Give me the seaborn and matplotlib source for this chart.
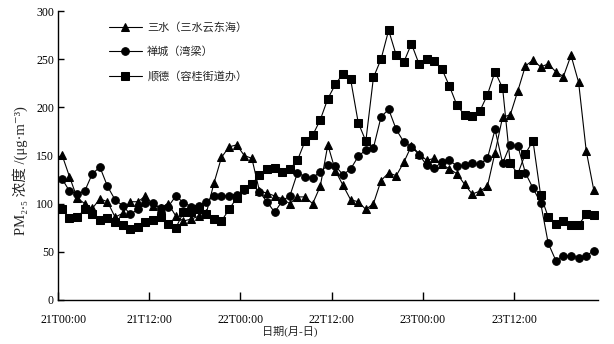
import numpy as np
import pandas as pd
import matplotlib
matplotlib.use("Agg")
import matplotlib.pyplot as plt
import matplotlib.transforms as mtransforms
import seaborn as sns

sites = ["三水（三水云东海）", "禅城（湾梁）", "顺德（容桂街道办）"]
tick_labels = ["21T00:00", "21T12:00", "22T00:00", "22T12:00", "23T00:00", "23T12:00"]

sanshui = [151, 128, 106, 100, 95, 105, 102, 86, 90, 102, 102, 108, 98, 96, 100, 87, 82, 84, 87, 90,
           121, 148, 159, 161, 150, 147, 113, 111, 108, 105, 100, 107, 107, 100, 118, 161, 134, 119, 104, 102,
           94, 100, 124, 132, 129, 143, 160, 152, 145, 147, 141, 136, 131, 120, 110, 113, 118, 153, 190, 192,
           217, 243, 249, 242, 245, 237, 232, 254, 226, 155, 114]
chancheng = [126, 113, 110, 113, 131, 138, 118, 104, 98, 89, 94, 101, 101, 95, 97, 108, 101, 97, 98, 102,
             108, 108, 108, 109, 114, 120, 112, 102, 91, 103, 108, 132, 128, 127, 133, 140, 139, 130, 136, 149,
             156, 158, 190, 198, 177, 164, 159, 151, 140, 137, 143, 145, 139, 140, 142, 141, 147, 177, 142, 161,
             160, 132, 116, 101, 59, 41, 46, 46, 44, 46, 51]
shunde = [94, 85, 86, 94, 89, 83, 85, 81, 78, 74, 76, 81, 83, 86, 79, 75, 91, 91, 94, 89,
          84, 82, 94, 106, 115, 120, 130, 136, 137, 133, 136, 145, 165, 171, 187, 209, 224, 235, 229, 184,
          165, 231, 250, 280, 254, 247, 266, 245, 250, 248, 240, 222, 202, 192, 191, 196, 213, 237, 220, 142,
          131, 152, 165, 109, 86, 79, 82, 78, 78, 89, 88]

n = len(sanshui)
hours = np.arange(n) + 0.5
df = pd.DataFrame({
    "hour": np.concatenate([hours, hours, hours]),
    "value": sanshui + chancheng + shunde,
    "site": [sites[0]] * n + [sites[1]] * n + [sites[2]] * n,
})

sns.set_theme(style="ticks")
fam = ["Liberation Serif", "DejaVu Serif", "Noto Sans CJK SC"]
plt.rcParams["font.family"] = fam
plt.rcParams["axes.unicode_minus"] = False

fig = plt.figure(figsize=(6.14, 3.44), dpi=100)
ax = fig.add_axes([58.1 / 614, 1 - 300 / 344, (597.6 - 58.1) / 614, (300 - 11) / 344])

sns.lineplot(data=df, x="hour", y="value", hue="site", style="site",
             hue_order=sites, style_order=sites,
             palette=["black"] * 3, markers={sites[0]: "^", sites[1]: "o", sites[2]: "s"},
             dashes=False, markersize=5.5, linewidth=0.8, markeredgecolor="black",
             ax=ax, legend=True)

ax.set_xlim(0, 71)
ax.set_ylim(0, 300)
ax.set_xticks([0, 12, 24, 36, 48, 60])
ax.set_xticklabels(tick_labels)
ax.set_yticks([0, 50, 100, 150, 200, 250, 300])
for s in ["top", "right"]:
    ax.spines[s].set_visible(False)
for s in ["left", "bottom"]:
    ax.spines[s].set_color("black")
    ax.spines[s].set_linewidth(1.0)
ax.tick_params(axis="x", direction="in", length=6, width=1.0, labelsize=8.5, colors="black", pad=10)
ax.tick_params(axis="y", direction="in", length=4, width=1.0, labelsize=8.5, colors="black", pad=3)

first = ax.get_xticklabels()[0]
first.set_transform(first.get_transform() + mtransforms.ScaledTranslation(5 / 100, 0, fig.dpi_scale_trans))

ax.set_xlabel("日期(月-日)", fontsize=8, family=fam)
ax.xaxis.set_label_coords(0.43, -0.09)
ax.set_ylabel("PM₂.₅ 浓度 /(μg·m⁻³)", fontsize=10.5, family=fam)
ax.yaxis.set_label_coords(-0.056, 0.447)

leg = ax.legend(loc="upper left", bbox_to_anchor=(0.094, 0.962), frameon=False,
                borderaxespad=0, borderpad=0, handlelength=3.0, handletextpad=0.45,
                labelspacing=1.25, prop={"family": fam, "size": 8})

fig.savefig("out.png", dpi=100)
